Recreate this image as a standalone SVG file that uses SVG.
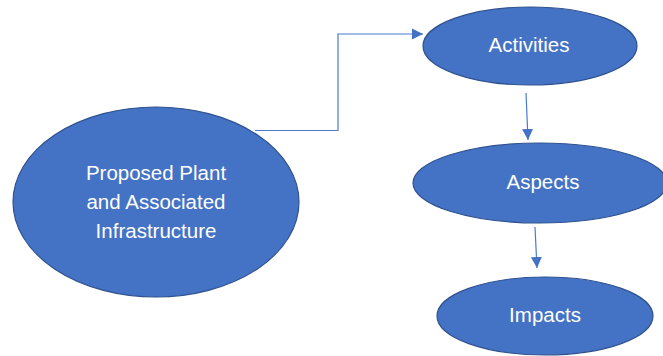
<svg xmlns="http://www.w3.org/2000/svg" width="663" height="356" viewBox="0 0 663 356">
<style>
.node{fill:#4472C4;stroke:#2F528F;stroke-width:1.2}
.lbl{fill:#ffffff;font-family:"Liberation Sans",Arial,sans-serif;font-size:20.5px;text-anchor:middle}
.conn{fill:none;stroke:#4A7BD0;stroke-width:1.2}
</style>
<defs>
<marker id="arr" markerWidth="12" markerHeight="12" refX="11" refY="6" orient="auto" markerUnits="userSpaceOnUse">
<path d="M0,0.5 L11,6 L0,11.5 Z" fill="#4472C4"/>
</marker>
</defs>
<rect width="663" height="356" fill="#ffffff"/>
<g id="connectors">
<polyline class="conn" points="255,130.5 338,130.5 338,34 423,34" marker-end="url(#arr)"/>
<line class="conn" x1="526" y1="93" x2="528" y2="140" marker-end="url(#arr)"/>
<line class="conn" x1="535" y1="227" x2="537" y2="268" marker-end="url(#arr)"/>
</g>
<g id="node-plant">
<ellipse class="node" cx="156" cy="202" rx="143" ry="95"/>
<text class="lbl" x="156" y="180">Proposed Plant</text>
<text class="lbl" x="156" y="209">and Associated</text>
<text class="lbl" x="156" y="238">Infrastructure</text>
</g>
<g id="node-activities">
<ellipse class="node" cx="530" cy="46" rx="107" ry="39"/>
<text class="lbl" x="529" y="52">Activities</text>
</g>
<g id="node-aspects">
<ellipse class="node" cx="540" cy="183" rx="127" ry="40"/>
<text class="lbl" x="543" y="189">Aspects</text>
</g>
<g id="node-impacts">
<ellipse class="node" cx="545" cy="316" rx="108" ry="39"/>
<text class="lbl" x="545" y="322">Impacts</text>
</g>
</svg>
